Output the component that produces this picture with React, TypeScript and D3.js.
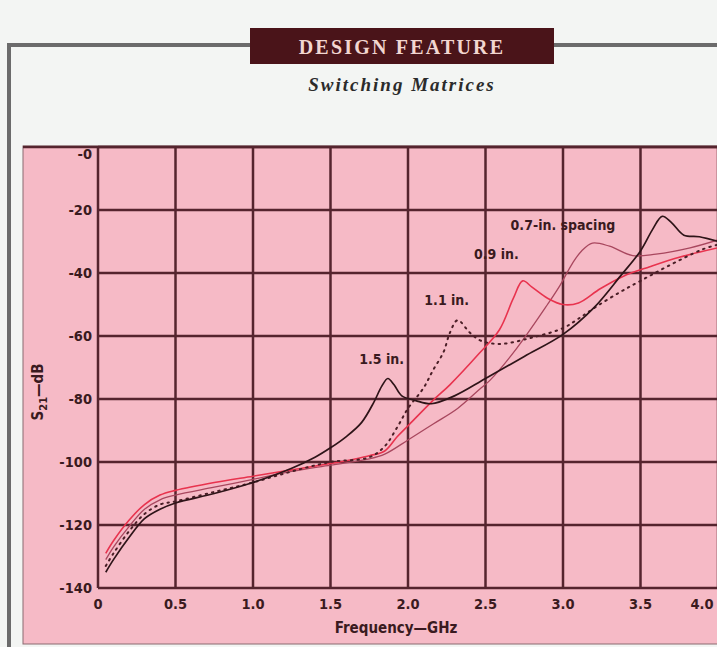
import React from 'react';
import * as d3 from 'd3';

// frequency (GHz) / S21 (dB)
const f15 = [0.05, 0.1, 0.2, 0.3, 0.4, 0.5, 0.75, 1.0, 1.25, 1.4, 1.5, 1.6, 1.7, 1.78, 1.83, 1.87, 1.91, 1.96, 2.05, 2.15, 2.3, 2.5, 2.75, 3.0, 3.2, 3.37, 3.5, 3.58, 3.64, 3.7, 3.78, 3.88, 4.0];
const s15 = [-135, -131, -124, -118, -115, -113, -110, -106.5, -102, -98.5, -95.5, -92, -87.5, -81, -76, -73.5, -75.5, -79, -80.5, -81.5, -79, -73.5, -66.5, -59.5, -51, -41, -33, -26, -22, -24, -28, -28.5, -30];

const f11 = [0.05, 0.1, 0.2, 0.3, 0.4, 0.5, 0.75, 1.0, 1.25, 1.5, 1.75, 1.85, 1.93, 2.0, 2.1, 2.16, 2.23, 2.27, 2.32, 2.4, 2.47, 2.6, 2.8, 3.0, 3.1, 3.22, 3.37, 3.5, 3.67, 3.9, 4.0];
const s11 = [-133, -129, -122, -116.5, -113.5, -112.5, -109.5, -106.5, -103, -100, -98.5, -95, -89, -83, -76.5, -71, -65, -59, -55, -59, -61.5, -62.5, -60.5, -57.5, -54.5, -50.5, -46, -42.5, -38, -32.5, -31];

const f09 = [0.05, 0.1, 0.2, 0.3, 0.4, 0.5, 0.75, 1.0, 1.25, 1.5, 1.75, 1.85, 1.93, 2.01, 2.16, 2.27, 2.46, 2.59, 2.68, 2.74, 2.8, 2.9, 3.0, 3.1, 3.24, 3.39, 3.56, 3.75, 4.0];
const s09 = [-129, -125, -118.5, -113.5, -110.5, -109, -106.5, -104.5, -102.5, -100.5, -98, -96.5, -92, -88, -80.5, -75.5, -65.5, -58, -48, -42.5, -44.5, -48, -50, -49.5, -45, -41, -38, -35, -32];

const f07 = [0.05, 0.1, 0.2, 0.3, 0.4, 0.5, 0.75, 1.0, 1.25, 1.5, 1.75, 1.85, 2.0, 2.16, 2.32, 2.46, 2.53, 2.7, 2.9, 2.98, 3.06, 3.12, 3.19, 3.3, 3.45, 3.6, 3.82, 4.0];
const s07 = [-131, -127, -120.5, -115, -112, -110.5, -108, -105.5, -103, -101, -99, -97.5, -93, -88, -83, -77, -74, -64, -50, -44, -37, -33, -30.5, -31.5, -34.5, -34, -32, -29.5];

const xTicks = [0, 0.5, 1.0, 1.5, 2.0, 2.5, 3.0, 3.5, 4.0];
const xTickLabels = ['0', '0.5', '1.0', '1.5', '2.0', '2.5', '3.0', '3.5', '4.0'];
const yTicks = [0, -20, -40, -60, -80, -100, -120, -140];
const yTickLabels = ['-0', '-20', '-40', '-60', '-80', '-100', '-120', '-140'];

const curveLabels = [
  { text: '1.5 in.', f: 1.83, db: -69 },
  { text: '1.1 in.', f: 2.25, db: -50 },
  { text: '0.9 in.', f: 2.57, db: -35.5 },
  { text: '0.7-in. spacing', f: 3.0, db: -26.5 },
];

const grid = '#55242e';
const condensed = "'Liberation Sans Narrow','DejaVu Sans Condensed','Liberation Sans',sans-serif";

export default function App() {
  const x = d3.scaleLinear().domain([0, 4]).range([98, 718]);
  const y = d3.scaleLinear().domain([0, -140]).range([147, 588]);

  const mk = (fs: number[], ss: number[]) =>
    d3
      .line<number>()
      .x((d, i) => x(fs[i]))
      .y((d) => y(d))
      .curve(d3.curveCatmullRom.alpha(0.5))(ss) as string;

  return (
    <svg width={717} height={647} style={{ position: 'absolute', left: 0, top: 0, background: '#f3f5f3' }}>
      {/* page frame */}
      <line x1={9} y1={45} x2={9} y2={647} stroke="#6b6b6b" strokeWidth={4} />
      <line x1={7} y1={45} x2={252} y2={45} stroke="#6b6b6b" strokeWidth={4} />
      <line x1={552} y1={45} x2={717} y2={45} stroke="#6b6b6b" strokeWidth={4} />
      <rect x={250} y={28} width={304} height={36} fill="#4a1419" />
      <text x={402} y={54} textAnchor="middle" fill="#f2d6d0" fontFamily="'Liberation Serif','DejaVu Serif',serif" fontWeight="bold" fontSize={20} letterSpacing={2.2}>
        DESIGN FEATURE
      </text>
      <text x={402} y={91} textAnchor="middle" fill="#2b2b2b" fontFamily="'Liberation Serif','DejaVu Serif',serif" fontWeight="bold" fontStyle="italic" fontSize={19} letterSpacing={2}>
        Switching Matrices
      </text>

      {/* pink panel */}
      <rect x={23} y={146} width={700} height={498} fill="#f6bac6" stroke="#8a6a70" strokeWidth={1} />
      <line x1={23} y1={147} x2={717} y2={147} stroke={grid} strokeWidth={2.5} />

      {/* grid */}
      {xTicks.map((t) => (
        <line key={'gx' + t} x1={x(t)} x2={x(t)} y1={y(0)} y2={y(-140)} stroke={grid} strokeWidth={2.5} />
      ))}
      {yTicks.map((t) => (
        <line key={'gy' + t} x1={x(0)} x2={718} y1={y(t)} y2={y(t)} stroke={grid} strokeWidth={2.5} />
      ))}

      {/* axis labels */}
      <g fontFamily={condensed} fontWeight="bold" fontSize={14.5} fill="#3a1a20">
        {yTicks.map((t, i) => (
          <text key={'yl' + t} x={92} y={(i === 0 ? y(t) + 7 : y(t)) + 5} textAnchor="end">
            {yTickLabels[i]}
          </text>
        ))}
        {xTicks.map((t, i) => (
          <text key={'xl' + t} x={i === xTicks.length - 1 ? 702 : x(t)} y={609} textAnchor="middle">
            {xTickLabels[i]}
          </text>
        ))}
        <text x={396} y={633} textAnchor="middle" fontSize={15}>Frequency—GHz</text>
        <text transform="translate(43,392) rotate(-90)" textAnchor="middle" fontSize={15}>
          S<tspan dy={4} fontSize={11}>21</tspan>
          <tspan dy={-4}>—dB</tspan>
        </text>
      </g>

      {/* curves */}
      <path d={mk(f07, s07)} fill="none" stroke="#a8475e" strokeWidth={1.3} />
      <path d={mk(f09, s09)} fill="none" stroke="#e8334e" strokeWidth={1.6} />
      <path d={mk(f11, s11)} fill="none" stroke="#4a1e26" strokeWidth={2} strokeDasharray="1.5,5" strokeLinecap="round" />
      <path d={mk(f15, s15)} fill="none" stroke="#2e1418" strokeWidth={1.7} />

      <g fontFamily={condensed} fontWeight="bold" fontSize={14} fill="#3a1a20">
        {curveLabels.map((l) => (
          <text key={l.text} x={x(l.f)} y={y(l.db)} textAnchor="middle">
            {l.text}
          </text>
        ))}
      </g>
    </svg>
  );
}
